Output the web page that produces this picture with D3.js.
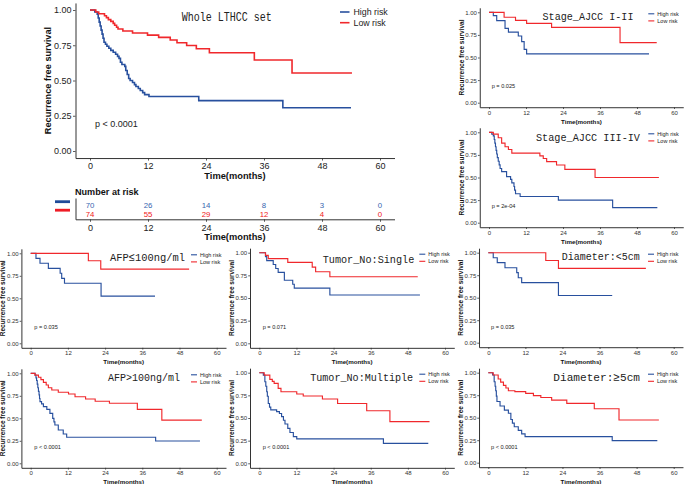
<!DOCTYPE html>
<html><head><meta charset="utf-8">
<script src="https://cdn.jsdelivr.net/npm/d3@7"></script>
<style>
html,body{margin:0;padding:0;background:#fff;}
svg{display:block;}
</style></head>
<body>
<script>
// ---------------- DATA ----------------
const months = [0, 12, 24, 36, 48, 60];
const survTicks = [0, 0.25, 0.5, 0.75, 1];
const groups = ["High risk", "Low risk"];
const riskHigh = [70, 26, 14, 8, 3, 0];
const riskLow = [74, 55, 29, 12, 4, 0];

// [time(months), survival] step points; last point = end of follow-up
const whole_high = [[0,1],[1.0,0.986],[1.5,0.971],[1.7,0.943],[1.9,0.914],[2.1,0.886],[2.3,0.857],[2.5,0.829],[2.7,0.800],[2.9,0.771],[3.2,0.757],[3.5,0.743],[3.9,0.729],[4.3,0.714],[4.8,0.700],[5.3,0.686],[5.7,0.671],[6.0,0.657],[6.3,0.629],[6.6,0.614],[7.2,0.600],[7.4,0.571],[7.7,0.543],[8.0,0.514],[8.3,0.500],[8.8,0.486],[9.2,0.471],[9.5,0.457],[10.0,0.443],[10.4,0.429],[10.9,0.414],[11.3,0.400],[12.2,0.386],[22.5,0.357],[39.9,0.307],[54.0,0.307]];
const whole_low = [[0,1],[1.2,0.986],[1.8,0.973],[3.0,0.959],[3.4,0.946],[3.8,0.932],[4.3,0.919],[4.8,0.905],[5.1,0.892],[5.5,0.878],[5.8,0.865],[6.8,0.851],[8.8,0.837],[11.9,0.822],[14.2,0.806],[16.6,0.787],[18.0,0.768],[20.0,0.748],[22.0,0.725],[24.7,0.697],[34.0,0.645],[41.8,0.553],[54.2,0.553]];
const stage12_high = [[0,1],[1.4,0.963],[2.5,0.908],[5.2,0.823],[6.3,0.78],[9.5,0.738],[10.6,0.675],[11.4,0.59],[12.2,0.54],[51.9,0.54]];
const stage12_low = [[0,1],[4.9,0.945],[8.6,0.91],[12.2,0.878],[20.3,0.834],[42.5,0.664],[54.4,0.664]];
const stage34_high = [[0,1],[0.9,0.98],[1.4,0.96],[1.7,0.92],[1.9,0.88],[2.1,0.84],[2.3,0.80],[2.5,0.76],[2.7,0.72],[3.0,0.68],[3.3,0.64],[3.6,0.60],[4.1,0.565],[5.7,0.51],[7.0,0.48],[7.4,0.44],[8.1,0.40],[8.3,0.36],[8.6,0.32],[10.1,0.29],[22.5,0.25],[40.1,0.166],[54.6,0.166]];
const stage34_low = [[0,1],[1.4,0.98],[3.0,0.94],[4.1,0.88],[5.2,0.84],[6.3,0.81],[7.4,0.77],[16.5,0.74],[17.6,0.71],[18.7,0.675],[21.9,0.638],[24.6,0.59],[34.4,0.50],[55.1,0.50]];
const afpLow_high = [[0,1],[1.7,0.944],[3.0,0.889],[5.7,0.833],[9.5,0.778],[10.0,0.722],[10.9,0.667],[22.7,0.524],[40.1,0.524]];
const afpLow_low = [[0,1],[18.6,0.917],[22.6,0.825],[51.1,0.825]];
const single_high = [[0,1],[2.0,0.957],[2.4,0.913],[4.5,0.870],[5.3,0.826],[6.1,0.783],[8.1,0.696],[10.8,0.652],[11.3,0.609],[22.8,0.533],[51.9,0.533]];
const single_low = [[0,1],[2.0,0.97],[2.9,0.935],[9.2,0.893],[17.1,0.84],[18.2,0.79],[22.8,0.735],[51.2,0.735]];
const diamSmall_high = [[0,1],[1.6,0.944],[2.9,0.889],[5.4,0.833],[9.2,0.778],[9.7,0.722],[10.8,0.667],[22.7,0.524],[40.1,0.524]];
const diamSmall_low = [[0,1],[18.6,0.913],[22.7,0.826],[51.0,0.826]];
const afpHigh_high = [[0,1],[1.4,0.98],[1.7,0.95],[1.9,0.92],[2.1,0.88],[2.3,0.84],[2.5,0.80],[2.7,0.76],[2.85,0.72],[3.0,0.685],[3.5,0.66],[4.1,0.63],[5.2,0.60],[6.2,0.555],[7.1,0.50],[7.5,0.46],[7.8,0.426],[8.9,0.37],[10.5,0.326],[11.6,0.29],[40.3,0.248],[54.6,0.248]];
const afpHigh_low = [[0,1],[1.4,0.98],[2.5,0.956],[3.3,0.93],[4.1,0.90],[5.0,0.87],[5.7,0.84],[6.8,0.815],[8.9,0.79],[12.2,0.77],[14.3,0.74],[17.7,0.715],[20.8,0.69],[25.4,0.667],[34.4,0.60],[42.3,0.48],[55.2,0.48]];
const multi_high = [[0,1],[1.3,0.974],[1.8,0.90],[2.1,0.85],[2.4,0.79],[2.6,0.74],[2.9,0.66],[3.3,0.62],[3.7,0.59],[5.6,0.57],[6.5,0.55],[7.2,0.515],[7.8,0.475],[8.3,0.434],[9.2,0.386],[9.9,0.34],[11.0,0.294],[12.1,0.27],[40.1,0.22],[54.6,0.22]];
const multi_low = [[0,1],[1.6,0.974],[3.4,0.926],[4.2,0.905],[4.8,0.882],[6.1,0.827],[7.0,0.79],[12.1,0.765],[14.2,0.743],[20.4,0.71],[25.3,0.66],[34.7,0.58],[42.2,0.46],[55.0,0.46]];
const diamLarge_high = [[0,1],[1.4,0.974],[1.9,0.90],[2.2,0.85],[2.4,0.80],[2.6,0.74],[2.8,0.68],[3.8,0.63],[5.2,0.585],[6.5,0.55],[7.3,0.48],[7.8,0.44],[8.4,0.40],[9.7,0.36],[10.8,0.32],[11.9,0.29],[40.1,0.245],[54.7,0.245]];
const diamLarge_low = [[0,1],[1.6,0.974],[3.2,0.93],[4.0,0.895],[4.9,0.86],[5.7,0.83],[6.5,0.80],[8.6,0.79],[12.1,0.77],[14.6,0.745],[17.0,0.725],[20.5,0.695],[25.4,0.66],[34.3,0.60],[42.3,0.475],[55.2,0.475]];

const titles = ["Whole LTHCC set","Stage_AJCC I-II","Stage_AJCC III-IV","AFP≤100ng/ml","Tumor_No:Single","Diameter:<5cm","AFP>100ng/ml","Tumor_No:Multiple","Diameter:≥5cm"];
const pvalues = ["p < 0.0001","p = 0.025","p = 2e-04","p = 0.035","p = 0.071","p = 0.035","p < 0.0001","p < 0.0001","p < 0.0001"];

// ---------------- LAYOUT ----------------
const W = 685, H = 484;
const BLUE = "#28509e", RED = "#f0282c";
const SANS = "'Liberation Sans', Arial, sans-serif";
const TFONT = "'Liberation Mono', 'Courier New', monospace";

const panels = [
  {title:0, hi:whole_high, lo:whole_low, x0:90, x60:380, y1:10, y0:151, big:true,
   tx:226.7, ty:20.5, tw:90, px:95, py:127},
  {title:1, hi:stage12_high, lo:stage12_low, x0:489, x60:674, y1:12.3, y0:102.7, tx:588, ty:19.5, tw:91, px:491.7, py:88},
  {title:2, hi:stage34_high, lo:stage34_low, x0:489, x60:674, y1:132.3, y0:222.7, tx:588, ty:141, tw:104, px:491.7, py:207.5},
  {title:3, hi:afpLow_high, lo:afpLow_low, x0:30.7, x60:216.7, y1:253.3, y0:343.3, tx:147.5, ty:260.7, tw:75, px:34.3, py:328.5},
  {title:4, hi:single_high, lo:single_low, x0:259.3, x60:445, y1:252.7, y0:343.3, tx:368.5, ty:262.5, tw:91.6, px:262.7, py:328.5},
  {title:5, hi:diamSmall_high, lo:diamSmall_low, x0:488.3, x60:673.7, y1:252.7, y0:342.7, tx:600.8, ty:259.5, tw:78, px:491, py:328.5},
  {title:6, hi:afpHigh_high, lo:afpHigh_low, x0:30.7, x60:216.7, y1:373.3, y0:463.3, tx:144, ty:381, tw:72, px:34.3, py:448.5},
  {title:7, hi:multi_high, lo:multi_low, x0:259.3, x60:445, y1:372.7, y0:463.3, tx:361.7, ty:380.7, tw:103, px:262.7, py:448.5},
  {title:8, hi:diamLarge_high, lo:diamLarge_low, x0:488.3, x60:673.7, y1:372.7, y0:462.7, tx:596.7, ty:380.7, tw:86.7, px:491, py:448.5}
];

const svg = d3.select("body").append("svg").attr("width", W).attr("height", H)
  .attr("viewBox", `0 0 ${W} ${H}`);
svg.append("rect").attr("width", W).attr("height", H).attr("fill", "#fff");

function styleAxis(g, fs, col) {
  g.select(".domain").attr("stroke", "#333").attr("stroke-width", 1);
  g.selectAll(".tick line").attr("stroke", "#333").attr("stroke-width", 0.8);
  g.selectAll(".tick text").attr("fill", col).attr("font-family", SANS).attr("font-size", fs);
}

function drawPanel(p) {
  const big = !!p.big;
  const w = p.x60 - p.x0, h = p.y0 - p.y1;
  const x = d3.scaleLinear().domain([-3, 63]).range([p.x0 - 0.05 * w, p.x60 + 0.05 * w]);
  const y = d3.scaleLinear().domain([-0.05, 1.05]).range([p.y0 + 0.05 * h, p.y1 - 0.05 * h]);
  const fs = big ? 9 : 6;
  const g = svg.append("g");

  const yax = g.append("g").attr("transform", `translate(${x(-3)},0)`)
    .call(d3.axisLeft(y).tickValues(survTicks).tickFormat(d3.format(".2f"))
      .tickSize(big ? 2.5 : 1.8).tickPadding(big ? 1.5 : 1).tickSizeOuter(0));
  styleAxis(yax, fs, big ? "#222" : "#333");
  const xax = g.append("g").attr("transform", `translate(0,${y(-0.05)})`)
    .call(d3.axisBottom(x).tickValues(months).tickFormat(d3.format("d"))
      .tickSize(big ? 2.5 : 1.8).tickPadding(big ? 2.5 : 1.5).tickSizeOuter(0));
  styleAxis(xax, fs, big ? "#222" : "#333");

  // axis titles
  g.append("text").attr("x", (x(-3) + x(63)) / 2).attr("y", y(-0.05) + (big ? 20.5 : 16.5))
    .attr("text-anchor", "middle").attr("font-family", SANS).attr("font-weight", "bold")
    .attr("font-size", big ? 9.3 : 6.2).attr("fill", "#111").text("Time(months)");
  const lx = x(-3) - (big ? 24.5 : 16), ly = (p.y1 + p.y0) / 2;
  g.append("text").attr("transform", `translate(${lx},${ly}) rotate(-90)`)
    .attr("text-anchor", "middle").attr("font-family", SANS).attr("font-weight", "bold")
    .attr("font-size", big ? 9.2 : 6.5).attr("fill", "#111").text("Recurrence free survival");

  // curves
  const line = d3.line().x(d => x(d[0])).y(d => y(d[1])).curve(d3.curveStepAfter);
  [[p.hi, BLUE], [p.lo, RED]].forEach(([data, col]) => {
    g.append("path").datum(data).attr("d", line).attr("fill", "none")
      .attr("stroke", col).attr("stroke-width", big ? 1.6 : 1.15);
  });

  // title
  g.append("text").attr("x", p.tx).attr("y", p.ty).attr("text-anchor", "middle")
    .attr("font-family", TFONT).attr("font-size", big ? 12 : 11.5).attr("fill", "#222")
    .attr("textLength", p.tw).attr("lengthAdjust", "spacingAndGlyphs")
    .text(titles[p.title]);

  // p value
  g.append("text").attr("x", p.px).attr("y", p.py).attr("font-family", SANS)
    .attr("font-size", big ? 9 : 5.6).attr("fill", "#222").text(pvalues[p.title]);

  // legend
  const lgX = big ? 340 : p.x60 - 25.7;
  const lgLen = big ? 9.5 : 6;
  const lgY = big ? [12, 22.7] : [p.y1 + 1.5, p.y1 + 8.6];
  groups.forEach((name, i) => {
    g.append("line").attr("x1", lgX).attr("x2", lgX + lgLen).attr("y1", lgY[i]).attr("y2", lgY[i])
      .attr("stroke", i === 0 ? BLUE : RED).attr("stroke-width", big ? 1.6 : 1.1);
    g.append("text").attr("x", lgX + lgLen + (big ? 4 : 3)).attr("y", lgY[i])
      .attr("dy", "0.35em").attr("font-family", SANS).attr("font-size", big ? 8.8 : 5.5)
      .attr("fill", "#222").text(name);
  });
  return x;
}

let mainX;
panels.forEach((p, i) => { const sx = drawPanel(p); if (i === 0) mainX = sx; });

// ---------------- RISK TABLE ----------------
const rt = svg.append("g");
const ry = d3.scalePoint().domain(groups).range([205.6, 214.6]);
const rAxisY = d3.scaleLinear().domain([0, 1]).range([219.3, 198]);
rt.append("text").attr("x", 75).attr("y", 194.5).attr("font-family", SANS)
  .attr("font-weight", "bold").attr("font-size", 9.1).attr("fill", "#111").text("Number at risk");
const ryax = rt.append("g").attr("transform", `translate(${mainX(-3)},0)`)
  .call(d3.axisLeft(rAxisY).tickValues([]).tickSizeOuter(0));
ryax.select(".domain").attr("stroke", "#333").attr("stroke-width", 1);
const rxax = rt.append("g").attr("transform", `translate(0,${rAxisY(0)})`)
  .call(d3.axisBottom(mainX).tickValues(months).tickFormat(d3.format("d")).tickSize(2.5).tickPadding(2.5).tickSizeOuter(0));
styleAxis(rxax, 9, "#222");
rt.append("text").attr("x", (mainX(-3) + mainX(63)) / 2).attr("y", 239.5).attr("text-anchor", "middle")
  .attr("font-family", SANS).attr("font-weight", "bold").attr("font-size", 9.3).attr("fill", "#111")
  .text("Time(months)");
[[riskHigh, groups[0], "#3866b0"], [riskLow, groups[1], "#f02020"]].forEach(([vals, grp, col]) => {
  rt.selectAll(null).data(vals).enter().append("text")
    .attr("x", (d, i) => mainX(months[i])).attr("y", ry(grp)).attr("dy", "0.36em")
    .attr("text-anchor", "middle").attr("font-family", SANS).attr("font-size", 7.8)
    .attr("fill", col).text(d => d);
  rt.append("line").attr("x1", 55).attr("x2", 70)
    .attr("y1", grp === groups[0] ? 201.7 : 210.2).attr("y2", grp === groups[0] ? 201.7 : 210.2)
    .attr("stroke", grp === groups[0] ? "#1f4a98" : "#ee1c25").attr("stroke-width", 2.8);
});
</script>
</body></html>
